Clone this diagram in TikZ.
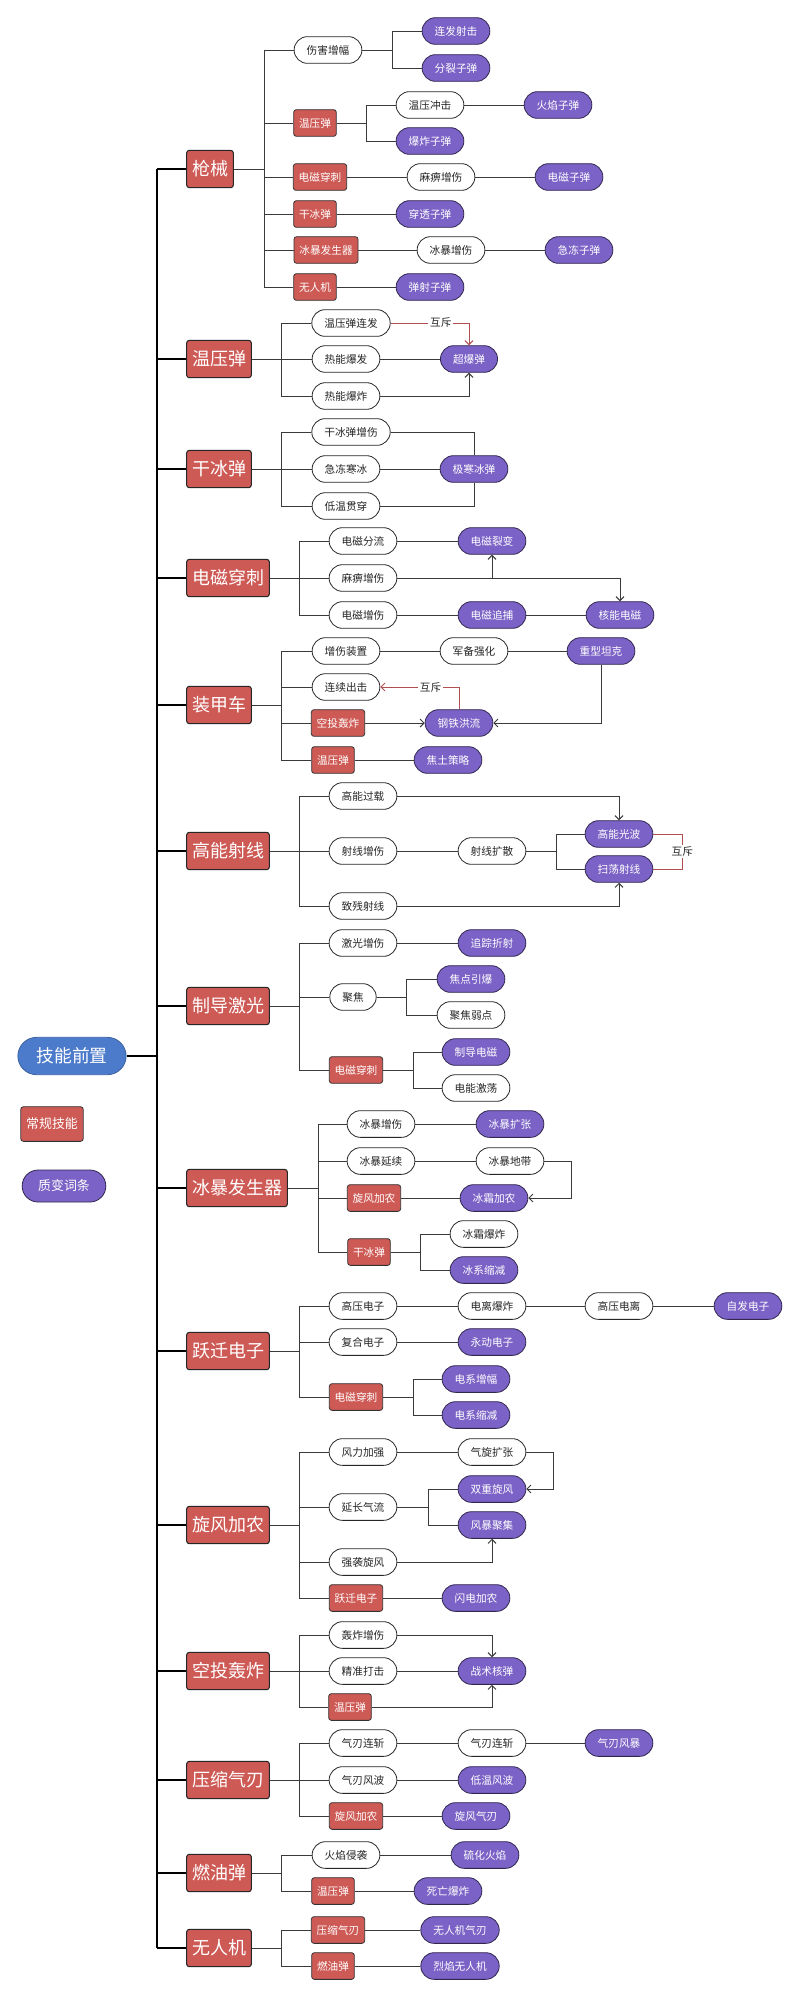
\documentclass[tikz,border=0pt]{standalone}
\usepackage{fontspec}
\setmainfont{Noto Sans CJK SC}
\usetikzlibrary{arrows.meta}
\definecolor{redc}{HTML}{CE5A55}
\definecolor{purc}{HTML}{7B62C6}
\definecolor{bluec}{HTML}{4D7BCB}
\definecolor{linec}{HTML}{3A3A3A}
\definecolor{mutex}{HTML}{B0504E}
\begin{document}
\begin{tikzpicture}[x=0.75pt,y=-0.75pt,
  >={Straight Barb[length=3pt,width=6pt]},
  bigbox/.style={draw=black!85,fill=redc,text=white,rounded corners=2pt,font=\fontsize{13.5}{14}\selectfont,inner xsep=4pt,inner ysep=0pt,minimum height=28pt,line width=0.8pt},
  smallred/.style={draw=black!80,fill=redc,text=white,rounded corners=2pt,font=\fontsize{8}{9}\selectfont,inner xsep=4pt,inner ysep=0pt,minimum height=20pt,line width=0.6pt},
  wpill/.style={draw=black!85,fill=white,text=black!85,rounded corners=10pt,font=\fontsize{8}{9}\selectfont,inner xsep=9.4pt,inner ysep=0pt,minimum height=20pt,line width=0.6pt},
  ppill/.style={draw=black!60!purc,fill=purc,text=white,rounded corners=10pt,font=\fontsize{8}{9}\selectfont,inner xsep=9.4pt,inner ysep=0pt,minimum height=20pt,line width=0.6pt},
  rootpill/.style={draw=bluec!80!black,fill=bluec,text=white,rounded corners=14pt,font=\fontsize{13.3}{14}\selectfont,inner xsep=14pt,inner ysep=0pt,minimum height=28pt,line width=0.6pt},
  legred/.style={draw=black!80,fill=redc,text=white,rounded corners=2pt,font=\fontsize{9.7}{10}\selectfont,inner xsep=4pt,inner ysep=0pt,minimum height=26pt,line width=0.6pt},
  legpur/.style={draw=black!60!purc,fill=purc,text=white,rounded corners=12pt,font=\fontsize{9.7}{10}\selectfont,inner xsep=12pt,inner ysep=0pt,minimum height=24pt,line width=0.6pt},
  conn/.style={draw=linec,line width=0.75pt},
  trunk/.style={draw=black,line width=1.5pt},
  mx/.style={draw=mutex,line width=0.75pt},
  mxlabel/.style={fill=white,text=black!85,font=\fontsize{8}{9}\selectfont,inner sep=1.5pt}
]
\fill[white] (0,0) rectangle (800,1993);
\useasboundingbox (0,0) rectangle (800,1993);

% ---------- root and legend ----------
\node[rootpill] (root) at (72,1056) {技能前置};
\node[legred] (leg1) at (52,1124) {常规技能};
\node[legpur] (leg2) at (64,1186) {质变词条};
\coordinate (T) at (157,1056);

% ---------- group 1 : 枪械 ----------
\node[bigbox] (g1) at (210,169) {枪械};
\node[wpill] (g1a) at (328,50) {伤害增幅};
\node[ppill] (g1a1) at (456,31) {连发射击};
\node[ppill] (g1a2) at (456,68) {分裂子弹};
\node[smallred] (g1b) at (315,123) {温压弹};
\node[wpill] (g1b1) at (430,105) {温压冲击};
\node[ppill] (g1b1a) at (558,105) {火焰子弹};
\node[ppill] (g1b2) at (430,141) {爆炸子弹};
\node[smallred] (g1c) at (320,177) {电磁穿刺};
\node[wpill] (g1c1) at (441,177) {麻痹增伤};
\node[ppill] (g1c2) at (569,177) {电磁子弹};
\node[smallred] (g1d) at (315,214) {干冰弹};
\node[ppill] (g1d1) at (430,214) {穿透子弹};
\node[smallred] (g1e) at (326,250) {冰暴发生器};
\node[wpill] (g1e1) at (451,250) {冰暴增伤};
\node[ppill] (g1e2) at (579,250) {急冻子弹};
\node[smallred] (g1f) at (315,287) {无人机};
\node[ppill] (g1f1) at (430,287) {弹射子弹};
\coordinate (b1) at (264,169);
\draw[conn] (g1.east) -- (b1);
\foreach \c in {g1a,g1b,g1c,g1d,g1e,g1f} \draw[conn] (b1) |- (\c.west);
\coordinate (b1a) at (392,50);
\draw[conn] (g1a.east) -- (b1a);
\foreach \c in {g1a1,g1a2} \draw[conn] (b1a) |- (\c.west);
\coordinate (b1b) at (366,123);
\draw[conn] (g1b.east) -- (b1b);
\foreach \c in {g1b1,g1b2} \draw[conn] (b1b) |- (\c.west);
\draw[conn] (g1b1) -- (g1b1a);
\draw[conn] (g1c) -- (g1c1);
\draw[conn] (g1c1) -- (g1c2);
\draw[conn] (g1d) -- (g1d1);
\draw[conn] (g1e) -- (g1e1);
\draw[conn] (g1e1) -- (g1e2);
\draw[conn] (g1f) -- (g1f1);

% ---------- group 2 : 温压弹 ----------
\node[bigbox] (g2) at (219,359) {温压弹};
\node[wpill] (g2a) at (351,323) {温压弹连发};
\node[wpill] (g2b) at (346,359) {热能爆发};
\node[wpill] (g2c) at (346,396) {热能爆炸};
\node[ppill] (g2x) at (469,359) {超爆弹};
\coordinate (b2) at (281,359);
\draw[conn] (g2.east) -- (b2);
\foreach \c in {g2a,g2b,g2c} \draw[conn] (b2) |- (\c.west);
\draw[conn] (g2b) -- (g2x);
\draw[conn,->] (g2c.east) -| (g2x.south);
\draw[mx,->] (g2a.east) -| node[mxlabel,pos=0.32] {互斥} (g2x.north);

% ---------- group 3 : 干冰弹 ----------
\node[bigbox] (g3) at (219,469) {干冰弹};
\node[wpill] (g3a) at (351,432) {干冰弹增伤};
\node[wpill] (g3b) at (346,469) {急冻寒冰};
\node[wpill] (g3c) at (346,506) {低温贯穿};
\node[ppill] (g3x) at (474,469) {极寒冰弹};
\coordinate (b3) at (281,469);
\draw[conn] (g3.east) -- (b3);
\foreach \c in {g3a,g3b,g3c} \draw[conn] (b3) |- (\c.west);
\draw[conn] (g3a.east) -| (g3x.north);
\draw[conn] (g3b) -- (g3x);
\draw[conn] (g3c.east) -| (g3x.south);

% ---------- group 4 : 电磁穿刺 ----------
\node[bigbox] (g4) at (228,578) {电磁穿刺};
\node[wpill] (g4a) at (363,541) {电磁分流};
\node[wpill] (g4b) at (363,578) {麻痹增伤};
\node[wpill] (g4c) at (363,615) {电磁增伤};
\node[ppill] (g4a1) at (492,541) {电磁裂变};
\node[ppill] (g4c1) at (492,615) {电磁追捕};
\node[ppill] (g4c2) at (620,615) {核能电磁};
\coordinate (b4) at (299,578);
\draw[conn] (g4.east) -- (b4);
\foreach \c in {g4a,g4b,g4c} \draw[conn] (b4) |- (\c.west);
\draw[conn] (g4a) -- (g4a1);
\draw[conn] (g4c) -- (g4c1);
\draw[conn] (g4c1) -- (g4c2);
\draw[conn,->] (g4b.east) -| (g4c2.north);
\draw[conn,->] (g4a1.south |- g4b.east) -- (g4a1.south);

% ---------- group 5 : 装甲车 ----------
\node[bigbox] (g5) at (219,705) {装甲车};
\node[wpill] (g5a) at (346,651) {增伤装置};
\node[wpill] (g5b) at (346,687) {连续出击};
\node[smallred] (g5c) at (338,723) {空投轰炸};
\node[smallred] (g5d) at (333,760) {温压弹};
\node[wpill] (g5a1) at (474,651) {军备强化};
\node[ppill] (g5a2) at (601,651) {重型坦克};
\node[ppill] (g5x) at (459,723) {钢铁洪流};
\node[ppill] (g5d1) at (448,760) {焦土策略};
\coordinate (b5) at (281,705);
\draw[conn] (g5.east) -- (b5);
\foreach \c in {g5a,g5b,g5c,g5d} \draw[conn] (b5) |- (\c.west);
\draw[conn] (g5a) -- (g5a1);
\draw[conn] (g5a1) -- (g5a2);
\draw[conn,->] (g5a2.south) |- (g5x.east);
\draw[conn,->] (g5c) -- (g5x);
\draw[mx,->] (g5x.north) |- node[mxlabel,pos=0.68] {互斥} (g5b.east);
\draw[conn] (g5d) -- (g5d1);

% ---------- group 6 : 高能射线 ----------
\node[bigbox] (g6) at (228,851) {高能射线};
\node[wpill] (g6a) at (363,796) {高能过载};
\node[wpill] (g6b) at (363,851) {射线增伤};
\node[wpill] (g6c) at (363,906) {致残射线};
\node[wpill] (g6b1) at (492,851) {射线扩散};
\node[ppill] (g6x) at (619,834) {高能光波};
\node[ppill] (g6y) at (619,869) {扫荡射线};
\coordinate (b6) at (299,851);
\draw[conn] (g6.east) -- (b6);
\foreach \c in {g6a,g6b,g6c} \draw[conn] (b6) |- (\c.west);
\draw[conn] (g6b) -- (g6b1);
\coordinate (b6b) at (556,851);
\draw[conn] (g6b1.east) -- (b6b);
\foreach \c in {g6x,g6y} \draw[conn] (b6b) |- (\c.west);
\draw[conn,->] (g6a.east) -| (g6x.north);
\draw[conn,->] (g6c.east) -| (g6y.south);
\draw[mx] (g6x.east) -- ++(29,0) |- node[mxlabel,pos=0.25] {互斥} (g6y.east);

% ---------- group 7 : 制导激光 ----------
\node[bigbox] (g7) at (228,1006) {制导激光};
\node[wpill] (g7a) at (363,943) {激光增伤};
\node[wpill] (g7b) at (353,997) {聚焦};
\node[smallred] (g7c) at (356,1070) {电磁穿刺};
\node[ppill] (g7a1) at (492,943) {追踪折射};
\node[ppill] (g7b1) at (471,979) {焦点引爆};
\node[wpill] (g7b2) at (471,1015) {聚焦弱点};
\node[ppill] (g7c1) at (476,1052) {制导电磁};
\node[wpill] (g7c2) at (476,1088) {电能激荡};
\coordinate (b7) at (299,1006);
\draw[conn] (g7.east) -- (b7);
\foreach \c in {g7a,g7b,g7c} \draw[conn] (b7) |- (\c.west);
\draw[conn] (g7a) -- (g7a1);
\coordinate (b7b) at (406,997);
\draw[conn] (g7b.east) -- (b7b);
\foreach \c in {g7b1,g7b2} \draw[conn] (b7b) |- (\c.west);
\coordinate (b7c) at (413,1070);
\draw[conn] (g7c.east) -- (b7c);
\foreach \c in {g7c1,g7c2} \draw[conn] (b7c) |- (\c.west);

% ---------- group 8 : 冰暴发生器 ----------
\node[bigbox] (g8) at (237,1188) {冰暴发生器};
\node[wpill] (g8a) at (381,1124) {冰暴增伤};
\node[wpill] (g8b) at (381,1161) {冰暴延续};
\node[smallred] (g8c) at (374,1198) {旋风加农};
\node[smallred] (g8d) at (369,1252) {干冰弹};
\node[ppill] (g8a1) at (510,1124) {冰暴扩张};
\node[wpill] (g8b1) at (510,1161) {冰暴地带};
\node[ppill] (g8c1) at (494,1198) {冰霜加农};
\node[wpill] (g8d1) at (484,1234) {冰霜爆炸};
\node[ppill] (g8d2) at (484,1270) {冰系缩减};
\coordinate (b8) at (318,1188);
\draw[conn] (g8.east) -- (b8);
\foreach \c in {g8a,g8b,g8c,g8d} \draw[conn] (b8) |- (\c.west);
\draw[conn] (g8a) -- (g8a1);
\draw[conn] (g8b) -- (g8b1);
\draw[conn] (g8c) -- (g8c1);
\draw[conn,->] (g8b1.east) -- ++(27,0) |- (g8c1.east);
\coordinate (b8d) at (420,1252);
\draw[conn] (g8d.east) -- (b8d);
\foreach \c in {g8d1,g8d2} \draw[conn] (b8d) |- (\c.west);

% ---------- group 9 : 跃迁电子 ----------
\node[bigbox] (g9) at (228,1351) {跃迁电子};
\node[wpill] (g9a) at (363,1306) {高压电子};
\node[wpill] (g9b) at (363,1342) {复合电子};
\node[smallred] (g9c) at (356,1397) {电磁穿刺};
\node[wpill] (g9a1) at (492,1306) {电离爆炸};
\node[wpill] (g9a2) at (619,1306) {高压电离};
\node[ppill] (g9a3) at (748,1306) {自发电子};
\node[ppill] (g9b1) at (492,1342) {永动电子};
\node[ppill] (g9c1) at (476,1379) {电系增幅};
\node[ppill] (g9c2) at (476,1415) {电系缩减};
\coordinate (b9) at (299,1351);
\draw[conn] (g9.east) -- (b9);
\foreach \c in {g9a,g9b,g9c} \draw[conn] (b9) |- (\c.west);
\draw[conn] (g9a) -- (g9a1);
\draw[conn] (g9a1) -- (g9a2);
\draw[conn] (g9a2) -- (g9a3);
\draw[conn] (g9b) -- (g9b1);
\coordinate (b9c) at (413,1397);
\draw[conn] (g9c.east) -- (b9c);
\foreach \c in {g9c1,g9c2} \draw[conn] (b9c) |- (\c.west);

% ---------- group 10 : 旋风加农 ----------
\node[bigbox] (g10) at (228,1525) {旋风加农};
\node[wpill] (g10a) at (363,1452) {风力加强};
\node[wpill] (g10b) at (363,1507) {延长气流};
\node[wpill] (g10c) at (363,1562) {强袭旋风};
\node[smallred] (g10d) at (356,1598) {跃迁电子};
\node[wpill] (g10a1) at (492,1452) {气旋扩张};
\node[ppill] (g10b1) at (492,1489) {双重旋风};
\node[ppill] (g10b2) at (492,1525) {风暴聚集};
\node[ppill] (g10d1) at (476,1598) {闪电加农};
\coordinate (b10) at (299,1525);
\draw[conn] (g10.east) -- (b10);
\foreach \c in {g10a,g10b,g10c,g10d} \draw[conn] (b10) |- (\c.west);
\draw[conn] (g10a) -- (g10a1);
\coordinate (b10b) at (428,1507);
\draw[conn] (g10b.east) -- (b10b);
\foreach \c in {g10b1,g10b2} \draw[conn] (b10b) |- (\c.west);
\draw[conn,->] (g10a1.east) -- ++(27,0) |- (g10b1.east);
\draw[conn,->] (g10c.east) -| (g10b2.south);
\draw[conn] (g10d) -- (g10d1);

% ---------- group 11 : 空投轰炸 ----------
\node[bigbox] (g11) at (228,1671) {空投轰炸};
\node[wpill] (g11a) at (363,1635) {轰炸增伤};
\node[wpill] (g11b) at (363,1671) {精准打击};
\node[smallred] (g11c) at (350,1707) {温压弹};
\node[ppill] (g11x) at (492,1671) {战术核弹};
\coordinate (b11) at (299,1671);
\draw[conn] (g11.east) -- (b11);
\foreach \c in {g11a,g11b,g11c} \draw[conn] (b11) |- (\c.west);
\draw[conn,->] (g11a.east) -| (g11x.north);
\draw[conn] (g11b) -- (g11x);
\draw[conn,->] (g11c.east) -| (g11x.south);

% ---------- group 12 : 压缩气刃 ----------
\node[bigbox] (g12) at (228,1780) {压缩气刃};
\node[wpill] (g12a) at (363,1743) {气刃连斩};
\node[wpill] (g12b) at (363,1780) {气刃风波};
\node[smallred] (g12c) at (356,1816) {旋风加农};
\node[wpill] (g12a1) at (492,1743) {气刃连斩};
\node[ppill] (g12a2) at (619,1743) {气刃风暴};
\node[ppill] (g12b1) at (492,1780) {低温风波};
\node[ppill] (g12c1) at (476,1816) {旋风气刃};
\coordinate (b12) at (299,1780);
\draw[conn] (g12.east) -- (b12);
\foreach \c in {g12a,g12b,g12c} \draw[conn] (b12) |- (\c.west);
\draw[conn] (g12a) -- (g12a1);
\draw[conn] (g12a1) -- (g12a2);
\draw[conn] (g12b) -- (g12b1);
\draw[conn] (g12c) -- (g12c1);

% ---------- group 13 : 燃油弹 ----------
\node[bigbox] (g13) at (219,1873) {燃油弹};
\node[wpill] (g13a) at (346,1855) {火焰侵袭};
\node[smallred] (g13b) at (333,1891) {温压弹};
\node[ppill] (g13a1) at (485,1855) {硫化火焰};
\node[ppill] (g13b1) at (448,1891) {死亡爆炸};
\coordinate (b13) at (281,1873);
\draw[conn] (g13.east) -- (b13);
\foreach \c in {g13a,g13b} \draw[conn] (b13) |- (\c.west);
\draw[conn] (g13a) -- (g13a1);
\draw[conn] (g13b) -- (g13b1);

% ---------- group 14 : 无人机 ----------
\node[bigbox] (g14) at (219,1948) {无人机};
\node[smallred] (g14a) at (338,1930) {压缩气刃};
\node[smallred] (g14b) at (333,1966) {燃油弹};
\node[ppill] (g14a1) at (460,1930) {无人机气刃};
\node[ppill] (g14b1) at (460,1966) {烈焰无人机};
\coordinate (b14) at (281,1948);
\draw[conn] (g14.east) -- (b14);
\foreach \c in {g14a,g14b} \draw[conn] (b14) |- (\c.west);
\draw[conn] (g14a) -- (g14a1);
\draw[conn] (g14b) -- (g14b1);

% ---------- trunk ----------
\draw[trunk] (root.east) -- (T);
\draw[trunk] (g1.west -| T) -- (g14.west -| T);
\foreach \g in {g1,g2,g3,g4,g5,g6,g7,g8,g9,g10,g11,g12,g13,g14}
  \draw[trunk] (\g.west -| T) -- (\g.west);
\end{tikzpicture}
\end{document}
